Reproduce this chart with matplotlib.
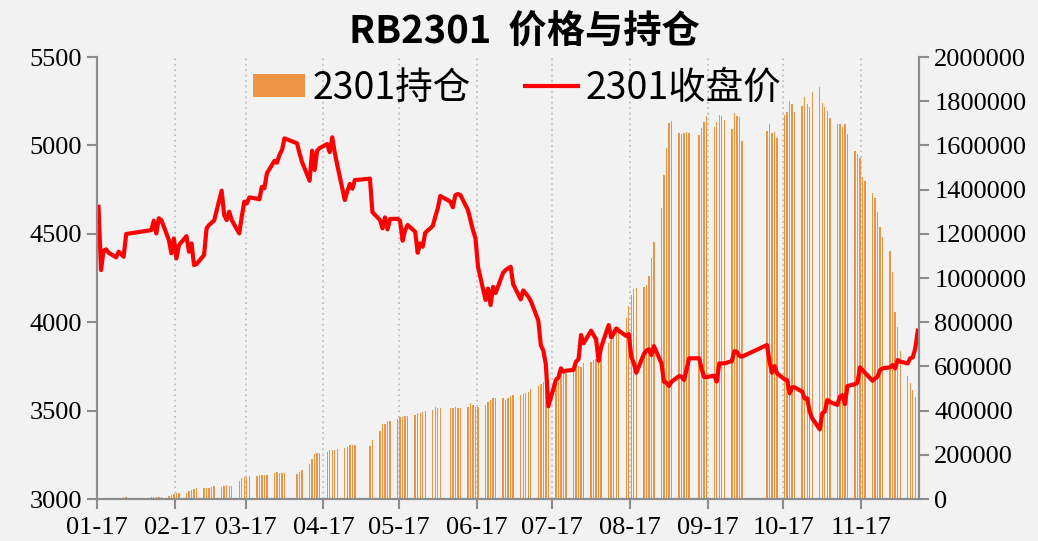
import numpy as np
import pandas as pd
import matplotlib
matplotlib.use("Agg")
import matplotlib.pyplot as plt
import matplotlib.dates as mdates
from matplotlib.ticker import FuncFormatter
from matplotlib.patches import Patch
from matplotlib.lines import Line2D

plt.rcParams['font.family'] = ['Noto Sans CJK SC', 'DejaVu Sans']

# SHFE trading calendar, 2022-01-17 .. 2022-12-09
start, end = '2022-01-17', '2022-12-09'
holidays = ['2022-01-31', '2022-02-01', '2022-02-02', '2022-02-03', '2022-02-04',
            '2022-04-04', '2022-04-05', '2022-05-02', '2022-05-03', '2022-05-04',
            '2022-06-03', '2022-09-12',
            '2022-10-03', '2022-10-04', '2022-10-05', '2022-10-06', '2022-10-07']
tick_dates = ['2022-01-17', '2022-02-17', '2022-03-17', '2022-04-17', '2022-05-17', '2022-06-17',
              '2022-07-17', '2022-08-17', '2022-09-17', '2022-10-17', '2022-11-17']

# open interest, one row per week
oi = [
    3000, 3500, 4000, 4500, 5000,
    5500, 6000, 6500, 7000, 7500,
    8000, 9000, 9000, 10000, 10000,
    12000, 18000, 22000, 25000, 28000,
    26000, 38000, 41000, 45000, 50000,
    50000, 50000, 51000, 54000, 57000,
    56000, 59000, 65000, 59000, 59000,
    83000, 94000, 98000, 101000, 104000,
    106000, 107000, 108000, 108000, 108000,
    116000, 124000, 119000, 118000, 118000,
    112000, 122000, 131000,
    157000, 180000, 204000, 207000, 210000,
    214000, 222000, 222000, 222000, 225000,
    229000, 237000, 244000, 244000, 244000,
    241000, 267000,
    309000, 339000, 341000, 351000, 354000,
    362000, 370000, 372000, 374000, 374000,
    380000, 388000, 388000, 395000, 400000,
    403000, 415000, 410000, 410000,
    412000, 412000, 415000, 411000, 411000,
    418000, 436000, 425000, 415000, 415000,
    425000, 440000, 448000, 456000, 456000,
    456000, 448000, 456000, 467000, 471000,
    471000, 474000, 481000, 486000, 496000,
    510000, 520000, 530000, 538000, 545000,
    553000, 561000, 566000, 569000, 569000,
    606000, 614000, 602000, 599000, 614000,
    621000, 629000, 632000, 637000, 644000,
    704000, 720000, 742000, 765000, 780000,
    818000, 873000, 923000, 949000, 953000,
    961000, 968000, 1009000, 1089000, 1164000,
    1315000, 1466000, 1587000, 1703000, 1712000,
    1655000, 1652000, 1658000, 1662000, 1655000,
    1647000, 1680000, 1707000, 1732000,
    1685000, 1707000, 1738000, 1733000, 1715000,
    1675000, 1748000, 1731000, 1727000, 1622000,
    1667000, 1697000, 1655000, 1662000, 1632000,
    1738000, 1753000, 1803000, 1787000, 1750000,
    1778000, 1821000, 1787000, 1772000, 1843000,
    1863000, 1790000, 1772000, 1757000, 1723000,
    1697000, 1697000, 1685000, 1697000, 1652000,
    1576000, 1561000, 1541000, 1455000, 1440000,
    1386000, 1360000, 1300000, 1229000, 1184000,
    1124000, 1029000, 848000, 777000, 671000,
    557000, 526000, 493000, 460000, np.nan,
]

# close price, one row per week
close = [
    4653, 4295, 4405, 4412, 4393,
    4367, 4399, 4386, 4370, 4499,
    4521, 4574, 4502, 4588, 4578,
    4465, 4390, 4474, 4361, 4436,
    4487, 4399, 4446, 4323, 4329,
    4380, 4531, 4550, 4563, 4574,
    4744, 4606, 4578, 4625, 4578,
    4502, 4597, 4682, 4672, 4706,
    4699, 4695, 4766, 4757, 4842,
    4913, 4902, 4946, 4974, 5040,
    5012, 4955, 4905,
    4800, 4970, 4861, 4970, 4985,
    5008, 4962, 5046, 4960, 4889,
    4691, 4740, 4782, 4755, 4804,
    4812, 4622,
    4578, 4531, 4593, 4525, 4584,
    4585, 4574, 4461, 4521, 4550,
    4512, 4393, 4446, 4427, 4506,
    4544, 4597, 4644, 4714,
    4682, 4650, 4719, 4725, 4719,
    4635, 4578, 4521, 4475, 4314,
    4126, 4190, 4097, 4200, 4165,
    4280, 4295, 4305, 4314, 4215,
    4129, 4180, 4162, 4145, 4120,
    4010, 3870, 3840, 3760, 3525,
    3673, 3688, 3739, 3720, 3726,
    3730, 3777, 3790, 3928, 3881,
    3952, 3928, 3903, 3782, 3858,
    3984, 3914, 3937, 3965, 3952,
    3922, 3933, 3805, 3768, 3714,
    3820, 3839, 3847, 3814, 3865,
    3768, 3663, 3658, 3639, 3663,
    3696, 3692, 3673, 3733, 3796,
    3796, 3735, 3690, 3690,
    3698, 3664, 3767, 3767, 3767,
    3780, 3836, 3833, 3810, 3805,
    3871, 3777, 3714, 3752, 3711,
    3677, 3673, 3598, 3632, 3632,
    3607, 3569, 3569, 3494, 3456,
    3394, 3485, 3494, 3560, 3550,
    3532, 3579, 3588, 3537, 3639,
    3650, 3658, 3745, 3730, 3714,
    3669, 3682, 3692, 3730, 3739,
    3745, 3758, 3739, 3786, 3777,
    3767, 3796, 3801, 3852, 3952,
]

days = pd.bdate_range(start, end, freq='C', holidays=holidays)
x = days + pd.Timedelta(hours=12)   # centre of each day slot
oi = np.array(oi, dtype=float)
close = np.array(close, dtype=float)

bg = '#F2F2F2'
axis_grey = '#8C8C8C'
bar_color = '#EC9444'

fig = plt.figure(figsize=(10.38, 5.41), dpi=100, facecolor=bg)
ax_bar = fig.add_axes([0.0937, 0.0776, 0.7917, 0.817])
ax_bar.set_facecolor(bg)
ax_line = ax_bar.twinx()

has_oi = ~np.isnan(oi)
ax_bar.bar(x[has_oi], oi[has_oi], width=0.55, color=bar_color, linewidth=0)
ax_line.plot(x, close, color='#FF0000', lw=3.0, solid_joinstyle='round')

ax_bar.set_ylim(0, 2000000)
ax_bar.set_yticks(np.arange(0, 2000001, 200000))
ax_bar.yaxis.set_major_formatter(FuncFormatter(lambda v, p: f'{int(v)}'))
ax_line.set_ylim(3000, 5500)
ax_line.set_yticks(np.arange(3000, 5501, 500))

ax_bar.set_xlim(pd.Timestamp('2022-01-17'), pd.Timestamp('2022-12-10'))
ax_bar.set_xticks(pd.to_datetime(tick_dates))
ax_bar.xaxis.set_major_formatter(mdates.DateFormatter('%m-%d'))

ax_bar.yaxis.set_ticks_position('right')
ax_line.yaxis.set_ticks_position('left')

ax_bar.set_axisbelow(True)
ax_bar.grid(axis='x', color='#BFBFBF', linestyle=(0, (1, 2)), lw=1.3)

for a in (ax_bar, ax_line):
    a.spines['top'].set_visible(False)
    for s in ('left', 'right', 'bottom'):
        a.spines[s].set_color(axis_grey)
        a.spines[s].set_linewidth(1.5)
    a.tick_params(colors=axis_grey, width=1.5, length=7, labelcolor='black')
    for lab in a.get_xticklabels() + a.get_yticklabels():
        lab.set_fontfamily('Liberation Serif')
        lab.set_fontsize(19)
ax_bar.tick_params(axis='y', pad=4)
ax_line.tick_params(axis='y', pad=4)
ax_bar.tick_params(axis='x', pad=6)

fig.text(0.505, 0.94, 'RB2301  价格与持仓', ha='center', va='center',
         fontsize=27.5, fontweight='bold', color='black')

handles = [Patch(facecolor=bar_color, edgecolor='none'),
           Line2D([0], [0], color='#FF0000', lw=3)]
fig.legend(handles, ['2301持仓', '2301收盘价'], loc='center',
           bbox_to_anchor=(0.498, 0.837), ncol=2, frameon=False, fontsize=27,
           handlelength=1.4, handleheight=0.6, handletextpad=0.2,
           columnspacing=1.45)

fig.savefig('out.png', dpi=100, facecolor=bg)
